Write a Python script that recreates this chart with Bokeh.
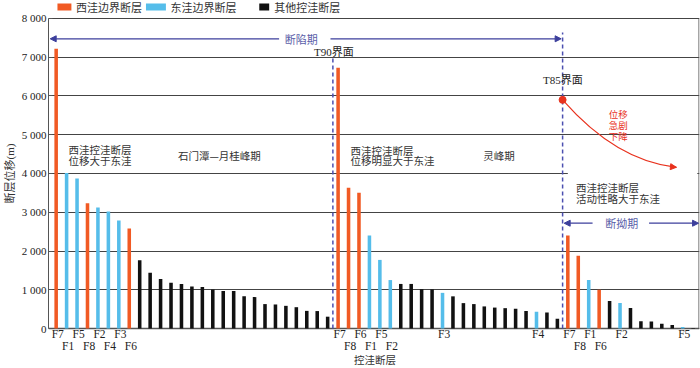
from bokeh.plotting import figure
from bokeh.models import (Range1d, FixedTicker, Label, Arrow, NormalHead,
                          ColumnDataSource)
from bokeh.embed import file_html
from bokeh.resources import INLINE

# ---------------- data ----------------
# group 1: 石门潭-月桂峰期 (断陷期, below T90)
faults_g1 = ["F7", "F1", "F5", "F8", "F2", "F4", "F3", "F6"] + [""] * 19
types_g1 = ["W", "E", "E", "W", "E", "E", "E", "W"] + ["O"] * 19
vals_g1 = [7220, 4010, 3870, 3235, 3120, 3020, 2790, 2580,
           1760, 1440, 1280, 1180, 1150, 1085, 1070, 1005, 970, 970,
           830, 810, 630, 620, 585, 550, 455, 450, 305]
rows_g1 = [1, 2, 1, 2, 1, 2, 1, 2] + [0] * 19

# group 2: 灵峰期 (T90 - T85)
faults_g2 = ["F7", "F8", "F6", "F1", "F5", "F2", "", "", "", "", "F3",
             "", "", "", "", "", "", "", "", "F4", "", ""]
types_g2 = ["W", "W", "W", "E", "E", "E", "O", "O", "O", "O", "E",
            "O", "O", "O", "O", "O", "O", "O", "O", "E", "O", "O"]
vals_g2 = [6730, 3630, 3500, 2400, 1770, 1250, 1150, 1150, 1015, 1010, 920,
           830, 655, 630, 570, 540, 525, 510, 450, 430, 410, 250]
rows_g2 = [1, 2, 1, 2, 1, 2, 0, 0, 0, 0, 1, 0, 0, 0, 0, 0, 0, 0, 0, 1, 0, 0]

# group 3: 断拗期 (above T85)
faults_g3 = ["F7", "F8", "F1", "F6", "", "F2", "", "", "", "", "", "F5", ""]
types_g3 = ["W", "W", "E", "W", "O", "E", "O", "O", "O", "O", "O", "E", "O"]
vals_g3 = [2400, 1880, 1250, 1000, 710, 660, 530, 190, 180, 120, 90, 40, 15]
rows_g3 = [1, 2, 1, 2, 0, 1, 0, 0, 0, 0, 0, 1, 0]

type_order = ["W", "E", "O"]
type_names = {"W": "西洼边界断层", "E": "东洼边界断层", "O": "其他控洼断层"}
type_colors = {"W": "#f15a24", "E": "#55bdea", "O": "#111111"}
y_ticks = [0, 1000, 2000, 3000, 4000, 5000, 6000, 7000, 8000]
y_tick_labels = ["0", "1 000", "2 000", "3 000", "4 000", "5 000", "6 000", "7 000", "8 000"]
y_max = 8000
x_title = "控洼断层"
y_title = "断层位移(m)"

T90_top = 7000
T85_top = 7640
drop_start = 5900

faults = faults_g1 + faults_g2 + faults_g3
types = types_g1 + types_g2 + types_g3
vals = vals_g1 + vals_g2 + vals_g3
rows = rows_g1 + rows_g2 + rows_g3
xs = list(range(len(vals)))

CJK = "Noto Sans CJK SC"
SERIF = "Liberation Serif"
MIX = "Liberation Serif, Noto Sans CJK SC"
TXT = "#333333"
BLUE_LINE = "#3c3f9c"
BLUE_TXT = "#5a5ea8"
RED = "#e8321e"
FRAME = "#555555"

X0, X1 = -0.734, 61.61
p = figure(width=700, height=368, output_backend="svg", toolbar_location=None,
           x_range=Range1d(X0, X1), y_range=Range1d(-1032, 8464),
           min_border_left=45, min_border_right=1, min_border_top=0,
           min_border_bottom=0)
p.outline_line_color = None
p.background_fill_color = "white"
p.border_fill_color = "white"

# y axis
p.yaxis.ticker = FixedTicker(ticks=y_ticks)
p.yaxis.bounds = (0, y_max)
p.yaxis.major_label_overrides = {t: l for t, l in zip(y_ticks, y_tick_labels)}
p.yaxis.major_label_text_font = SERIF
p.yaxis.major_label_text_font_size = "11px"
p.yaxis.major_label_text_color = "#222222"
p.yaxis.major_label_standoff = 2
p.yaxis.major_tick_in = 4
p.yaxis.major_tick_out = 0
p.yaxis.minor_tick_line_color = None
p.yaxis.axis_line_color = FRAME
p.yaxis.major_tick_line_color = FRAME
p.yaxis.axis_label = "\u3000\u3000" + y_title
p.yaxis.axis_label_text_font = MIX
p.yaxis.axis_label_text_font_size = "11px"
p.yaxis.axis_label_text_font_style = "normal"
p.yaxis.axis_label_text_color = TXT
p.yaxis.axis_label_standoff = 3

p.xaxis.visible = False
p.xgrid.visible = False
p.ygrid.ticker = FixedTicker(ticks=y_ticks)
p.ygrid.grid_line_color = "#444444"
p.ygrid.grid_line_width = 1

# right frame edge and baseline
p.segment(x0=[X1 - 0.05], y0=[0], x1=[X1 - 0.05], y1=[y_max], line_color=FRAME, line_width=1)
p.segment(x0=[X0], y0=[0], x1=[X1], y1=[0], line_color=FRAME, line_width=1.3)

# gap behind curve label
p.quad(left=[49.0], right=[61.4], bottom=[3975], top=[4025], fill_color="white", line_color=None)

# bars
for t in type_order:
    src = ColumnDataSource(dict(x=[x for x, tt in zip(xs, types) if tt == t],
                                top=[v for v, tt in zip(vals, types) if tt == t]))
    p.vbar(x="x", top="top", width=0.34, source=src,
           fill_color=type_colors[t], line_color=None)

# boundaries
b1 = len(vals_g1) - 0.5
b2 = len(vals_g1) + len(vals_g2) - 0.5
p.segment(x0=[b1, b2], y0=[0, 0], x1=[b1, b2], y1=[T90_top, T85_top],
          line_color="#4b4fb0", line_width=1.5, line_dash="4 3")

def lab(x, y, text, font=CJK, size="10.5px", color=TXT, align="left", angle=0):
    p.add_layout(Label(x=x, y=y, text=text, text_font=font, text_font_size=size,
                       text_color=color, text_align=align, text_baseline="middle",
                       angle=angle))

# fault labels below the bars (two staggered rows)
row_y = {1: -142, 2: -452}
for x, f, r in zip(xs, faults, rows):
    if f:
        lab(x + 0.15, row_y[r], f, font=SERIF, size="11.5px", color="#222222", align="center")
lab(30.53, -790, x_title, size="10.5px", align="center")

# legend (drawn above the 8000 line)
leg_left = [0.124, 8.60, 19.45]
leg_right = [1.459, 10.51, 20.40]
leg_text_x = [1.907, 10.96, 20.88]
p.quad(left=leg_left, right=leg_right, bottom=[8206] * 3, top=[8387] * 3,
       fill_color=[type_colors[t] for t in type_order], line_color=None)
for t, lx in zip(type_order, leg_text_x):
    lab(lx, 8290, type_names[t], size="11px")

# annotations
lab(1.17, 4612, "西洼控洼断层")
lab(1.17, 4335, "位移大于东洼")
lab(11.66, 4465, "石门潭—月桂峰期")
lab(28.18, 4600, "西洼控洼断层")
lab(28.18, 4335, "位移明显大于东洼")
lab(40.9, 4465, "灵峰期")
lab(49.79, 3631, "西洼控洼断层")
lab(49.79, 3363, "活动性略大于东洼")
lab(26.6, 7140, "T90界面", font=MIX, size="11px", color="#222222", align="center")
lab(48.52, 6418, "T85界面", font=MIX, size="11px", color="#222222", align="center")
for yy, tx in zip([5523, 5239, 4955], ["位移", "急剧", "下降"]):
    lab(53.82, yy, tx, size="9.5px", color=RED, align="center")

# period arrows
lab(23.48, 7476, "断陷期", color=BLUE_TXT, size="11px", align="center")
p.add_layout(Arrow(x_start=21.35, y_start=7476, x_end=-0.57, y_end=7476,
                   line_color=BLUE_LINE, line_width=1.2,
                   end=NormalHead(size=6, fill_color=BLUE_LINE, line_color=BLUE_LINE)))
p.add_layout(Arrow(x_start=26.27, y_start=7476, x_end=48.36, y_end=7476,
                   line_color=BLUE_LINE, line_width=1.2,
                   end=NormalHead(size=6, fill_color=BLUE_LINE, line_color=BLUE_LINE)))
lab(54.16, 2717, "断拗期", color=BLUE_TXT, size="11px", align="center")
p.add_layout(Arrow(x_start=51.37, y_start=2717, x_end=48.65, y_end=2717,
                   line_color=BLUE_LINE, line_width=1.2,
                   end=NormalHead(size=6, fill_color=BLUE_LINE, line_color=BLUE_LINE)))
p.add_layout(Arrow(x_start=56.78, y_start=2717, x_end=61.52, y_end=2717,
                   line_color=BLUE_LINE, line_width=1.2,
                   end=NormalHead(size=6, fill_color=BLUE_LINE, line_color=BLUE_LINE)))

# displacement drop curve
p.quadratic(x0=[b2], y0=[drop_start], x1=[59.4], y1=[4160], cx=[53.65], cy=[4321],
            line_color=RED, line_width=1.2)
p.add_layout(Arrow(x_start=58.9, y_start=4174, x_end=59.4, y_end=4160,
                   line_color=RED, line_width=1.2,
                   end=NormalHead(size=6, fill_color=RED, line_color=RED)))
p.scatter(x=[b2], y=[drop_start], size=7, color=RED)

open("out.html", "w").write(file_html(p, INLINE))
